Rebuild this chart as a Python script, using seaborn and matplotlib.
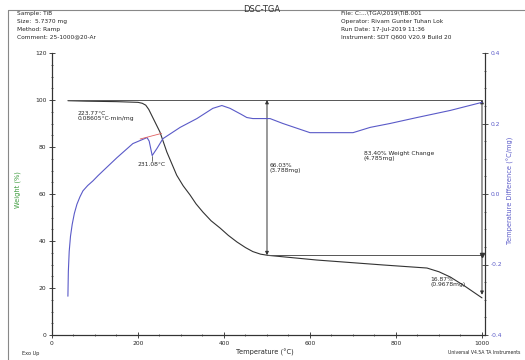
import numpy as np
import pandas as pd
import seaborn as sns
import matplotlib.pyplot as plt
from matplotlib.ticker import MultipleLocator

sns.set_theme(style="white")
plt.rcParams['font.family'] = ['DejaVu Sans']
plt.rcParams['axes.unicode_minus'] = False

# weight curve (TGA, left axis)
tga_temp = [37, 80, 150, 200, 210, 218, 225, 235, 251, 267, 290, 305, 321, 335, 351,
            370, 391, 410, 430, 450, 467, 485, 502, 616, 770, 872, 900, 926, 960, 1000]
tga_weight = [99.7, 99.5, 99.3, 99.0, 98.6, 97.8, 96.0, 92.3, 86.4, 77.9, 68.0, 63.5,
              59.6, 55.8, 52.3, 48.6, 45.5, 42.4, 39.6, 37.2, 35.5, 34.4, 33.9, 31.9,
              29.8, 28.5, 26.9, 24.7, 20.8, 15.8]

# temperature difference curve (DSC, right axis)
dsc_temp = [37, 38, 40, 43, 47, 52, 58, 65, 72, 83, 95, 107, 119, 151, 188, 221, 226,
            233, 244, 258, 298, 337, 374, 395, 414, 440, 453, 467, 507, 537, 600, 700,
            740, 786, 849, 926, 1000]
dsc_diff = [-0.29, -0.22, -0.163, -0.12, -0.086, -0.055, -0.029, -0.008, 0.009, 0.024,
            0.037, 0.052, 0.066, 0.103, 0.143, 0.160, 0.150, 0.109, 0.129, 0.157, 0.189,
            0.214, 0.243, 0.251, 0.243, 0.226, 0.217, 0.214, 0.214, 0.200, 0.174, 0.174,
            0.189, 0.200, 0.217, 0.237, 0.260]

# step analysis
step_start, step_mid, step_end = 37, 500, 1000
level_start, level_mid, level_end = 100.0, 33.97, 17.1

header_left = ["Sample: TiB", "Size:  5.7370 mg", "Method: Ramp", "Comment: 25-1000@20-Ar"]
header_right = ["File: C:...\\TGA\\2019\\TiB.001", "Operator: Rivam Gunter Tuhan Lok",
                "Run Date: 17-Jul-2019 11:36", "Instrument: SDT Q600 V20.9 Build 20"]

tga = pd.DataFrame({"temp": tga_temp, "weight": tga_weight})
dsc = pd.DataFrame({"temp": dsc_temp, "diff": dsc_diff})

blue = "#5a5ac8"
fig = plt.figure(figsize=(5.25, 3.6), dpi=100)
ax = fig.add_axes([52 / 525, 25 / 360, 433 / 525, 282 / 360])
ax2 = ax.twinx()

sns.lineplot(data=tga, x="temp", y="weight", ax=ax, color="#333333", lw=0.8)
sns.lineplot(data=dsc, x="temp", y="diff", ax=ax2, color=blue, lw=0.8)

ax.set_xlim(0, 1007)
ax.set_ylim(0, 120)
ax2.set_ylim(-0.4, 0.4)

# reference lines and step arrows
ax.plot([step_start, step_end], [level_start, level_start], color="#555555", lw=0.7)
ax.plot([step_mid, step_end], [level_mid, level_mid], color="#555555", lw=0.7)
ax.annotate("", xy=(step_mid, level_start), xytext=(step_mid, level_mid),
            arrowprops=dict(arrowstyle="<|-|>", color="#333333", lw=0.7,
                            mutation_scale=5, shrinkA=0, shrinkB=0))
ax.annotate("", xy=(step_end, level_start), xytext=(step_end, level_end),
            arrowprops=dict(arrowstyle="<|-|>", color="#333333", lw=0.7,
                            mutation_scale=5, shrinkA=0, shrinkB=0))
ax.plot([step_end], [level_mid], marker="v", ms=3, color="#333333")

# onset tangent (red)
ax2.plot([205, 255], [0.156, 0.172], color="#e06060", lw=0.6)
ax2.plot([233, 233], [0.109, 0.094], color="#333333", lw=0.5)

fs = 4.3
ax.text(60, 93, "223.77°C\n0.08605°C·min/mg", fontsize=fs, va="center", linespacing=1.0)
ax.text(200, 72.5, "231.08°C", fontsize=fs, va="center")
ax.text(505, 71, "66.03%\n(3.788mg)", fontsize=fs, va="center", linespacing=1.0)
ax.text(725, 76, "83.40% Weight Change\n(4.785mg)", fontsize=fs, va="center", linespacing=1.0)
ax.text(880, 22.5, "16.87%\n(0.9678mg)", fontsize=fs, va="center", linespacing=1.0)

ax.xaxis.set_major_locator(MultipleLocator(200))
ax.xaxis.set_minor_locator(MultipleLocator(50))
ax.yaxis.set_major_locator(MultipleLocator(20))
ax.yaxis.set_minor_locator(MultipleLocator(5))
ax2.yaxis.set_minor_locator(MultipleLocator(0.05))
ax2.set_yticks([-0.4, -0.2, 0.0, 0.2, 0.4])
ax2.set_yticklabels(["-0.4", "-0.2", "0.0", "0.2", "0.4"])

for a in (ax, ax2):
    a.tick_params(which="major", direction="inout", length=4, width=0.6, labelsize=4.3, pad=2)
    a.tick_params(which="minor", direction="inout", length=2, width=0.5)
    for s in a.spines.values():
        s.set_linewidth(0.8)
        s.set_color("#333333")
ax.spines["top"].set_visible(False)
ax2.spines["top"].set_visible(False)
ax.tick_params(axis="x", bottom=True, which="both")
ax.tick_params(axis="y", left=True, which="both")
ax2.tick_params(axis="y", right=True, which="both", colors="#333333", labelcolor=blue)
ax.set_xlabel("")
ax.set_ylabel("")
ax2.set_ylabel("")

fig.text(18 / 525, 1 - 190 / 360, "Weight (%)", rotation=90, color="#3a9a3a",
         fontsize=4.8, ha="center", va="center")
fig.text(510 / 525, 1 - 190 / 360, "Temperature Difference (°C/mg)", rotation=90,
         color=blue, fontsize=4.8, ha="center", va="center")
fig.text(265 / 525, 1 - 352 / 360, "Temperature (°C)", fontsize=4.8, ha="center", va="center")
fig.text(22 / 525, 1 - 353 / 360, "Exo Up", fontsize=3.6, va="center")
fig.text(520 / 525, 1 - 353 / 360, "Universal V4.5A TA Instruments", fontsize=3.3,
         ha="right", va="center")
fig.text(262 / 525, 1 - 9 / 360, "DSC-TGA", fontsize=6, ha="center", va="center",
         color="#333333")
for i, (l, r) in enumerate(zip(header_left, header_right)):
    y = 1 - (13 + 8 * i) / 360
    fig.text(17 / 525, y, l, fontsize=4.2, va="center")
    fig.text(341 / 525, y, r, fontsize=4.2, va="center")

# outer frame
fig.add_artist(plt.Line2D([8 / 525, 1], [1 - 10 / 360] * 2, color="#888888", lw=0.8))
fig.add_artist(plt.Line2D([8 / 525] * 2, [0, 1 - 10 / 360], color="#888888", lw=0.8))

fig.savefig("out.png", dpi=100)
